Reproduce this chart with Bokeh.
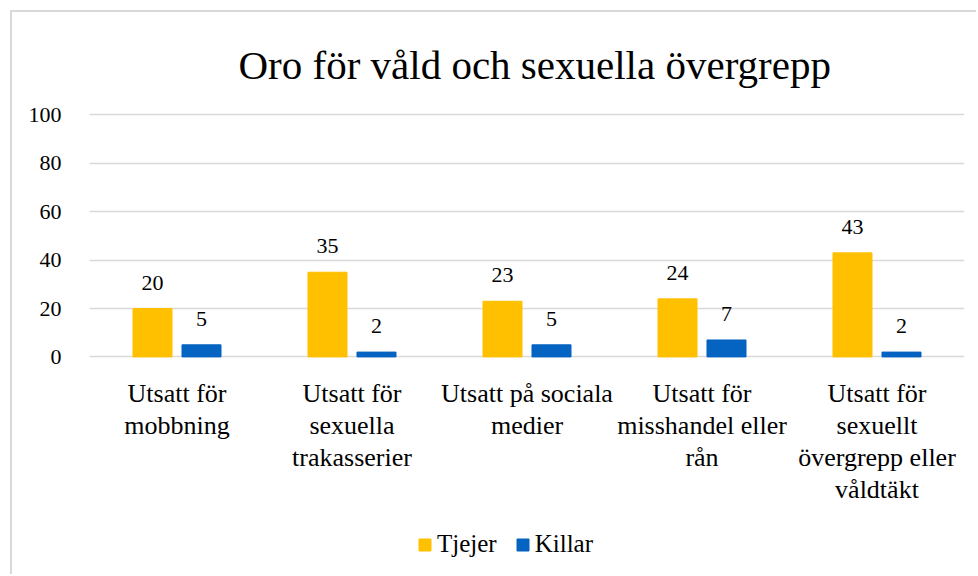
from bokeh.plotting import figure
from bokeh.models import (FactorRange, Range1d, Legend, LegendItem, ColumnDataSource,
                          FixedTicker, LabelSet)
from bokeh.transform import dodge
from bokeh.embed import file_html
from bokeh.resources import INLINE

categories = ["Utsatt för\nmobbning",
              "Utsatt för\nsexuella\ntrakasserier",
              "Utsatt på sociala\nmedier",
              "Utsatt för\nmisshandel eller\nrån",
              "Utsatt för\nsexuellt\növergrepp eller\nvåldtäkt"]
tjejer = [20, 35, 23, 24, 43]
killar = [5, 2, 5, 7, 2]
y_ticks = [0, 20, 40, 60, 80, 100]
series_names = ["Tjejer", "Killar"]
title_text = "Oro för våld och sexuella övergrepp"

FONT = "Liberation Serif"
YELLOW = "#FFC000"
BLUE = "#0563C1"
GRID = "#D9D9D9"

factors = [c.replace("\n", " ") for c in categories]

src = ColumnDataSource(dict(
    cat=factors,
    tjejer=tjejer,
    killar=killar,
    tj_lbl=[str(v) for v in tjejer],
    ki_lbl=[str(v) for v in killar],
))

# canvas offset by 12 px (10 px margin + 2 px border); frame 100..558 px in canvas
Y_TOP = 101
Y_BOTTOM = Y_TOP - 458 / 2.42

p = figure(width=966, height=564, output_backend="svg", toolbar_location=None,
           x_range=FactorRange(factors=factors), y_range=Range1d(Y_BOTTOM, Y_TOP),
           min_border_left=77, min_border_right=14, min_border_top=100,
           min_border_bottom=6)
p.styles = {"margin-left": "10px", "margin-top": "10px",
            "border-left": "2px solid #D9D9D9", "border-top": "2px solid #D9D9D9"}

p.title.text = title_text
p.title.align = "left"
p.title.offset = 149
p.title.text_font = FONT
p.title.text_font_size = "41px"
p.title.text_font_style = "normal"
p.title.text_color = "#000000"
p.title.standoff = 50

p.outline_line_color = None
p.background_fill_color = "white"
p.border_fill_color = "white"

r1 = p.vbar(x=dodge("cat", -0.14, range=p.x_range), top="tjejer", width=0.223,
            source=src, color=YELLOW)
r2 = p.vbar(x=dodge("cat", 0.14, range=p.x_range), top="killar", width=0.223,
            source=src, color=BLUE)

for field, lbl, off in (("tjejer", "tj_lbl", -0.14), ("killar", "ki_lbl", 0.14)):
    p.add_layout(LabelSet(x=dodge("cat", off, range=p.x_range), y=field, text=lbl,
                          source=src, y_offset=26, text_align="center",
                          text_baseline="middle", text_font=FONT,
                          text_font_size="22px", text_color="#000000"))

# category labels under the bars, one centred line at a time
split = [c.split("\n") for c in categories]
max_lines = max(len(s) for s in split)
for k in range(max_lines):
    xs = [f for f, s in zip(factors, split) if len(s) > k]
    ts = [s[k] for s in split if len(s) > k]
    line_src = ColumnDataSource(dict(cat=xs, txt=ts, zero=[0] * len(xs)))
    p.add_layout(LabelSet(x="cat", y="zero", text="txt", source=line_src,
                          y_offset=-22 - 32 * k, text_align="center",
                          text_baseline="top", text_font=FONT,
                          text_font_size="26px", text_color="#000000"))

# axes
p.xaxis.visible = False
p.yaxis.ticker = FixedTicker(ticks=y_ticks)
p.yaxis.axis_line_color = None
p.yaxis.major_tick_line_color = None
p.yaxis.minor_tick_line_color = None
p.yaxis.major_label_text_font = FONT
p.yaxis.major_label_text_font_size = "22px"
p.yaxis.major_label_text_color = "#000000"
p.yaxis.major_label_standoff = 22

p.xgrid.grid_line_color = None
p.ygrid.grid_line_color = GRID
p.ygrid.grid_line_width = 1.5
p.ygrid.ticker = FixedTicker(ticks=y_ticks)

legend = Legend(items=[LegendItem(label=series_names[0], renderers=[r1]),
                       LegendItem(label=series_names[1], renderers=[r2])],
                orientation="horizontal", location=(328, 12),
                glyph_width=15, glyph_height=15, label_standoff=5, spacing=18,
                padding=0, margin=0, border_line_color=None,
                background_fill_alpha=0,
                label_text_font=FONT, label_text_font_size="25px",
                label_text_color="#000000")
p.add_layout(legend)

open("out.html", "w").write(file_html(p, INLINE))
